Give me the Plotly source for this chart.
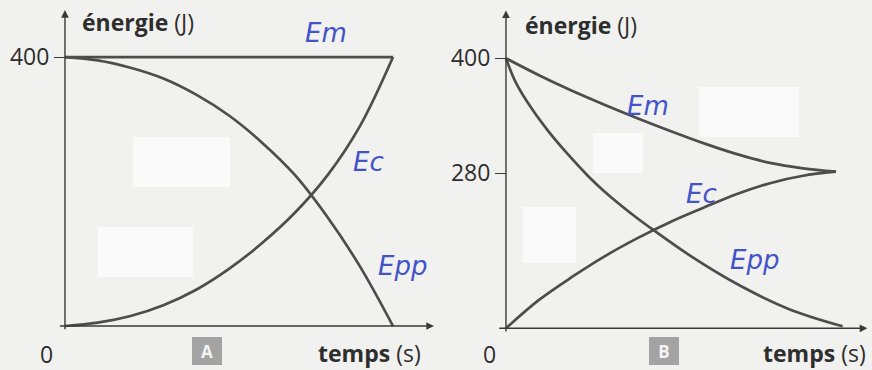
import plotly.graph_objects as go

# panneau A : énergie mécanique conservée
t_a = [0, 1, 2, 3, 4, 5, 6, 7, 8, 9, 10]
em_a = [400, 400, 400, 400, 400, 400, 400, 400, 400, 400, 400]
ec_a = [0, 5, 15, 31, 54, 85, 123, 168, 224, 298, 400]
epp_a = [400, 395, 384, 368, 344, 313, 273, 225, 162, 88, 0]

# panneau B : énergie mécanique dissipée
t_b = [0, 1, 2, 3, 4, 5, 6, 7, 8, 9, 10]
em_b = [400, 375, 352, 331, 311, 292, 274, 258, 245, 237, 232]
ec_b = [0, 42, 76, 107, 134, 158, 179, 199, 215, 226, 232]
t_b_epp = [0, 0.3, 0.8, 1.3, 1.8, 2.5, 3, 3.9, 4.4, 5.6, 7.1, 8.6, 10.2]
epp_b = [400, 364, 324, 291, 262, 225, 202, 166, 148, 107, 63, 28, 3]

ticks_a = [400]
ticklabels_a = ["400"]
ticks_b = [400, 230]
ticklabels_b = ["400", "280"]

W, H = 872, 370
LINE = "#4d4d4d"
INK = "#2e2e2e"
BLUE = "#4254c8"
PAPER = "#f1f1ef"
FONT = "Open Sans, sans-serif"

fig = go.Figure()

for y in (em_a, ec_a, epp_a):
    fig.add_trace(go.Scatter(x=t_a, y=y, mode="lines", xaxis="x", yaxis="y",
                             line=dict(color=LINE, width=2.7, shape="spline", smoothing=1)))
for x, y in ((t_b, em_b), (t_b, ec_b), (t_b_epp, epp_b)):
    fig.add_trace(go.Scatter(x=x, y=y, mode="lines", xaxis="x2", yaxis="y2",
                             line=dict(color=LINE, width=2.7, shape="spline", smoothing=1)))


def px(x):
    return x / W


def py(y):
    return 1 - y / H


# zones blanches du scan
shapes = []
for x0, y0, x1, y1 in [(133, 137, 230, 187), (98, 227, 193, 277), (593, 133, 643, 173),
                       (699, 87, 799, 137), (523, 207, 576, 263)]:
    shapes.append(dict(type="rect", xref="paper", yref="paper", x0=px(x0), x1=px(x1),
                       y0=py(y1), y1=py(y0), fillcolor="#fafafa", line=dict(width=0),
                       layer="below"))

ann = []
# axes avec flèches
for xr, yr, x0, y0, x1, y1 in [("x", "y", 0, -7, 0, 470), ("x", "y", -0.2, 0, 11.25, 0),
                               ("x2", "y2", 0, -7, 0, 471), ("x2", "y2", -0.25, 0, 10.95, 0)]:
    ann.append(dict(x=x1, y=y1, ax=x0, ay=y0, xref=xr, yref=yr, axref=xr, ayref=yr,
                    text="", showarrow=True, arrowhead=2, arrowsize=1.1,
                    arrowwidth=1.4, arrowcolor="#3a3a3a"))

# textes imprimés
for x, y, txt in [(80, 22, "<b>énergie</b> (J)"), (523, 25, "<b>énergie</b> (J)"),
                  (316, 353, "<b>temps</b> (s)"), (761, 353, "<b>temps</b> (s)")]:
    ann.append(dict(x=px(x), y=py(y), xref="paper", yref="paper", text=txt,
                    showarrow=False, xanchor="left", yanchor="middle",
                    font=dict(family=FONT, size=23, color=INK)))
for x in (46, 489):
    ann.append(dict(x=px(x), y=py(354), xref="paper", yref="paper", text="0",
                    showarrow=False, xanchor="center", yanchor="middle",
                    font=dict(family=FONT, size=23, color=INK)))

# pastilles A / B
for x, txt in ((207, "A"), (664, "B")):
    ann.append(dict(x=px(x), y=py(351), xref="paper", yref="paper", text="<b>" + txt + "</b>",
                    showarrow=False, xanchor="center", yanchor="middle",
                    bgcolor="#a3a3a3", bordercolor="#a3a3a3",
                    borderpad=2, width=24, height=22,
                    font=dict(family=FONT, size=17, color="#f4f4f4")))

# annotations manuscrites
for x, y, txt in [(326, 33, "Em"), (368, 162, "Ec"), (402, 266, "Epp"),
                  (648, 106, "Em"), (701, 194, "Ec"), (754, 260, "Epp")]:
    ann.append(dict(x=px(x), y=py(y), xref="paper", yref="paper", text=txt,
                    showarrow=False, xanchor="center", yanchor="middle",
                    font=dict(family="DejaVu Sans", size=26, color=BLUE, style="italic")))

axis_common = dict(showgrid=False, zeroline=False, showline=False)

fig.update_layout(
    width=W, height=H,
    margin=dict(l=0, r=0, t=0, b=0),
    paper_bgcolor=PAPER, plot_bgcolor=PAPER,
    showlegend=False,
    xaxis=dict(domain=[0, 0.5], range=[-1.98, 11.31], showticklabels=False,
               ticks="", anchor="y", **axis_common),
    yaxis=dict(domain=[0, 1], range=[-65.4, 484.8], anchor="free", position=px(65),
               tickvals=ticks_a, ticktext=ticklabels_a, ticks="outside", ticklen=11,
               tickwidth=1.4, tickcolor="#3a3a3a",
               tickfont=dict(family=FONT, size=23, color=INK), **axis_common),
    xaxis2=dict(domain=[0.5, 1], range=[-2.12, 11.09], showticklabels=False,
                ticks="", anchor="y2", **axis_common),
    yaxis2=dict(domain=[0, 1], range=[-61.8, 486.4], anchor="free", position=px(506),
                tickvals=ticks_b, ticktext=ticklabels_b, ticks="outside", ticklen=11,
                tickwidth=1.4, tickcolor="#3a3a3a",
                tickfont=dict(family=FONT, size=23, color=INK), **axis_common),
    shapes=shapes,
    annotations=ann,
)

fig.write_html("out.html", config={"displayModeBar": False},
               post_script="document.body.style.margin='0';document.body.style.overflow='hidden';")
